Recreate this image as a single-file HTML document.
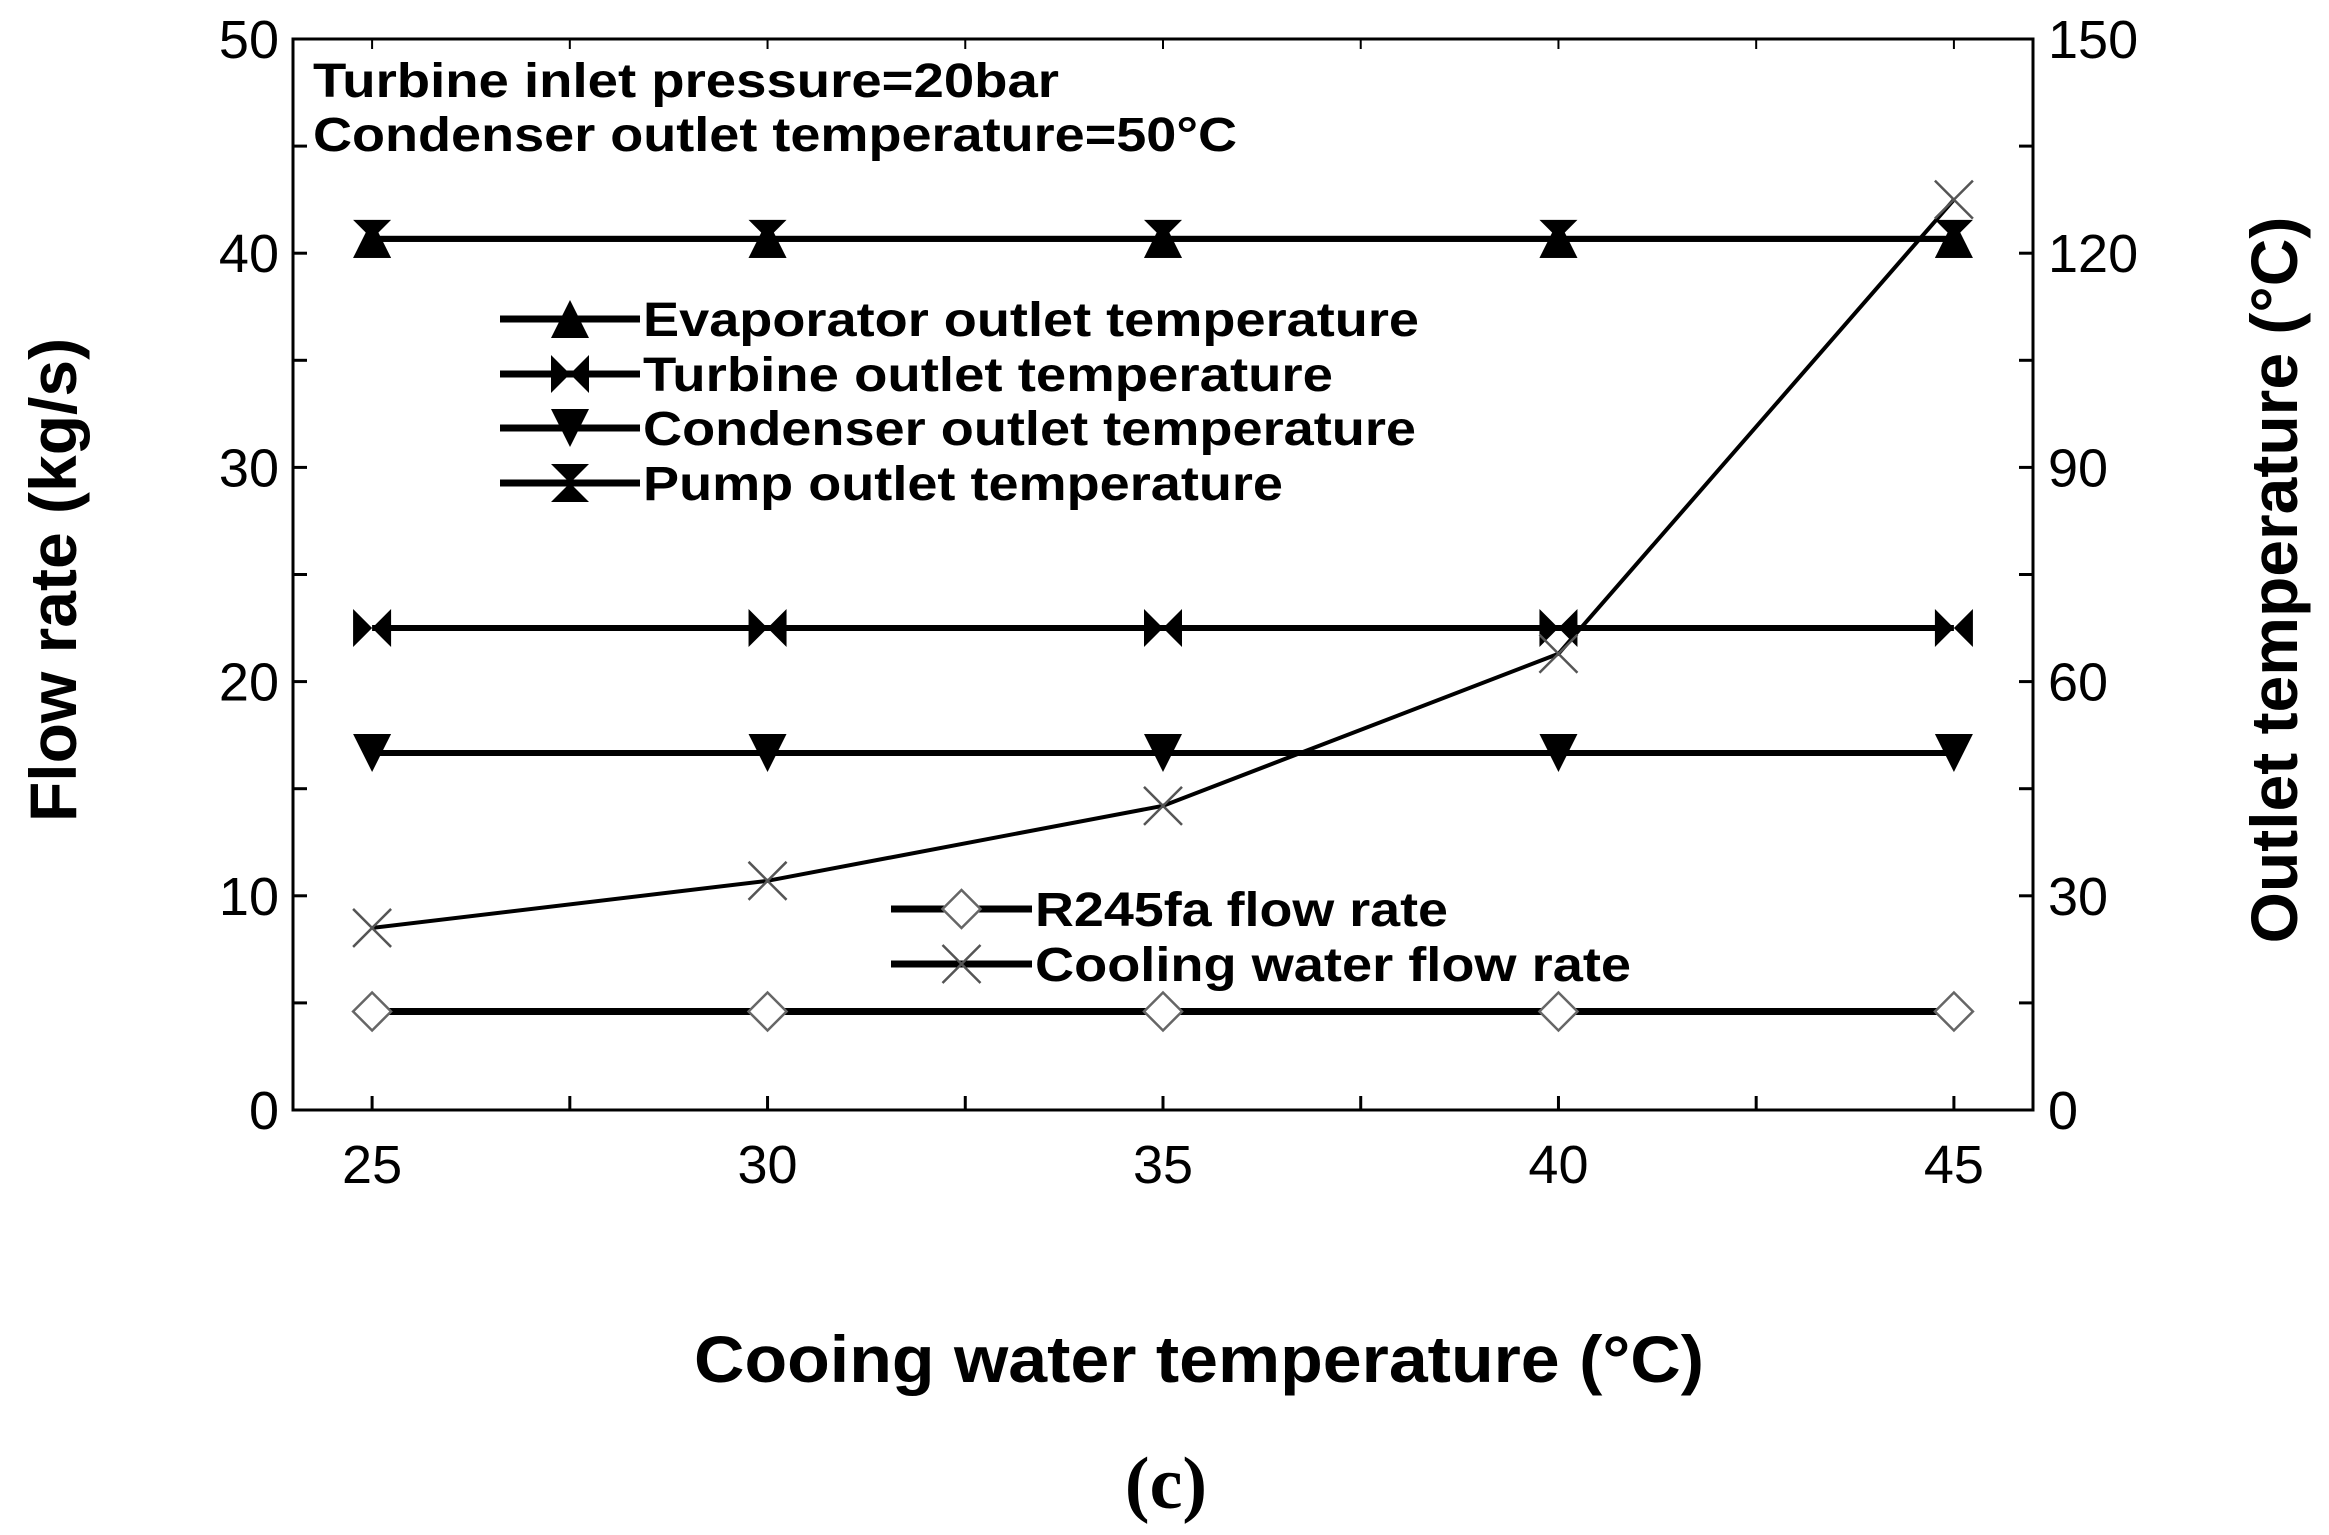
<!DOCTYPE html>
<html><head><meta charset="utf-8"><style>
html,body{margin:0;padding:0;background:#fff;}
svg{display:block;font-family:"Liberation Sans",Arial,sans-serif;}
</style></head><body>
<svg id="chart" width="2329" height="1535" viewBox="0 0 2329 1535"></svg>
<script>
const xCats = [25, 30, 35, 40, 45];
const r245faFlow = [4.6, 4.6, 4.6, 4.6, 4.6];
const coolingFlow = [8.5, 10.7, 14.2, 21.3, 42.5];
const evapTemp = [122, 122, 122, 122, 122];
const turbineTemp = [67.5, 67.5, 67.5, 67.5, 67.5];
const condTemp = [50, 50, 50, 50, 50];
const pumpTemp = [122, 122, 122, 122, 122];
const leftTicks = [0, 10, 20, 30, 40, 50];
const rightTicks = [0, 30, 60, 90, 120, 150];
const xTicks = [25, 30, 35, 40, 45];

const NS = "http://www.w3.org/2000/svg";
const svg = document.getElementById('chart');
const L = 293, R = 2033, T = 39, B = 1110;
const xs = v => L + (v - 24) / 22 * (R - L);
const yl = v => B - v / 50 * (B - T);
const yr = v => B - v / 150 * (B - T);

function el(tag, attrs, parent) {
  const e = document.createElementNS(NS, tag);
  for (const k in attrs) e.setAttribute(k, attrs[k]);
  (parent || svg).appendChild(e);
  return e;
}
function txt(s, attrs) { const e = el('text', attrs); e.textContent = s; return e; }

const box = el('rect', {x: L, y: T, width: R - L, height: B - T, fill: 'none', stroke: '#000', 'stroke-width': 3});



for (let v = 25; v <= 45; v += 2.5) {
  const t = el('line', {x1: xs(v), x2: xs(v), y1: B, y2: B - 14, stroke: '#000', 'stroke-width': 3});
  
  
  const t2 = el('line', {x1: xs(v), x2: xs(v), y1: T, y2: T + 10, stroke: '#000', 'stroke-width': 2});
  
  
}
xTicks.forEach(v => {
  const t = txt(String(v), {x: xs(v), y: 1183, 'font-size': 54, 'text-anchor': 'middle'});
  
  
});
for (let v = 0; v <= 50; v += 5) {
  const t = el('line', {x1: L, x2: L + 14, y1: yl(v), y2: yl(v), stroke: '#000', 'stroke-width': 3});
  
  
}
leftTicks.forEach(v => {
  const t = txt(String(v), {x: 279, y: yl(v) + 19, 'font-size': 54, 'text-anchor': 'end'});
  
  
});
for (let v = 0; v <= 150; v += 15) {
  const t = el('line', {x1: R, x2: R - 14, y1: yr(v), y2: yr(v), stroke: '#000', 'stroke-width': 3});
  
  
}
rightTicks.forEach(v => {
  const t = txt(String(v), {x: 2048, y: yr(v) + 19, 'font-size': 54, 'text-anchor': 'start'});
  
  
});

function marker(type, cx, cy, s, g) {
  const h = s / 2;
  let e;
  if (type === 'up') e = el('polygon', {points: `${cx-h},${cy+h} ${cx+h},${cy+h} ${cx},${cy-h}`, fill: '#000'}, g);
  else if (type === 'down') e = el('polygon', {points: `${cx-h},${cy-h} ${cx+h},${cy-h} ${cx},${cy+h}`, fill: '#000'}, g);
  else if (type === 'bow') e = el('polygon', {points: `${cx-h},${cy-h} ${cx},${cy} ${cx+h},${cy-h} ${cx+h},${cy+h} ${cx},${cy} ${cx-h},${cy+h}`, fill: '#000'}, g);
  else if (type === 'hour') e = el('polygon', {points: `${cx-h},${cy-h} ${cx+h},${cy-h} ${cx},${cy} ${cx+h},${cy+h} ${cx-h},${cy+h} ${cx},${cy}`, fill: '#000'}, g);
  else if (type === 'diamond') e = el('polygon', {points: `${cx-h},${cy} ${cx},${cy-h} ${cx+h},${cy} ${cx},${cy+h}`, fill: '#fff', stroke: '#666', 'stroke-width': 2.5}, g);
  else if (type === 'x') e = el('path', {d: `M${cx-h},${cy-h}L${cx+h},${cy+h}M${cx-h},${cy+h}L${cx+h},${cy-h}`, stroke: '#555', 'stroke-width': 2.5, fill: 'none'}, g);
  
  
}

function series(name, vals, yf, type, lw) {
  const g = el('g', {});
  
  
  const pts = vals.map((v, i) => `${xs(xCats[i])},${yf(v)}`).join(' ');
  const pl = el('polyline', {points: pts, fill: 'none', stroke: '#000', 'stroke-width': lw}, g);
  
  
  vals.forEach((v, i) => marker(type, xs(xCats[i]), yf(v), 38, g));
}
series('r245fa-flow-series', r245faFlow, yl, 'diamond', 7);
series('condenser-temp-series', condTemp, yr, 'down', 6);
series('turbine-temp-series', turbineTemp, yr, 'bow', 6);
series('pump-temp-series', pumpTemp, yr, 'hour', 6);
series('evaporator-temp-series', evapTemp, yr, 'up', 6);
series('cooling-flow-series', coolingFlow, yl, 'x', 4);

function legendEntry(type, y, x0, x1, label, name, len) {
  const g = el('g', {});
  
  
  const ln = el('line', {x1: x0, x2: x1, y1: y, y2: y, stroke: '#000', 'stroke-width': 7}, g);
  
  
  marker(type, (x0 + x1) / 2, y, 38, g);
  const t = el('text', {x: x1 + 3, y: y + 17, 'font-size': 48, 'font-weight': 'bold', textLength: len, lengthAdjust: 'spacingAndGlyphs'}, g);
  t.textContent = label;
  
  
}
legendEntry('up', 319, 500, 640, 'Evaporator outlet temperature', 'legend-evaporator', 776);
legendEntry('bow', 374, 500, 640, 'Turbine outlet temperature', 'legend-turbine', 690);
legendEntry('down', 428, 500, 640, 'Condenser outlet temperature', 'legend-condenser', 773);
legendEntry('hour', 483, 500, 640, 'Pump outlet temperature', 'legend-pump', 640);
legendEntry('diamond', 909, 891, 1032, 'R245fa flow rate', 'legend-r245fa', 413);
legendEntry('x', 964, 891, 1032, 'Cooling water flow rate', 'legend-cooling-water', 596);

const a1 = txt('Turbine inlet pressure=20bar', {x: 313, y: 97, 'font-size': 48, 'font-weight': 'bold', textLength: 746, lengthAdjust: 'spacingAndGlyphs'});


const a2 = txt('Condenser outlet temperature=50°C', {x: 313, y: 151, 'font-size': 48, 'font-weight': 'bold', textLength: 924, lengthAdjust: 'spacingAndGlyphs'});



const xt = txt('Cooing water temperature (°C)', {x: 694, y: 1382, 'font-size': 66, 'font-weight': 'bold', textLength: 1010, lengthAdjust: 'spacingAndGlyphs'});


const ylt = txt('Flow rate (kg/s)', {x: 0, y: 0, 'font-size': 66, 'font-weight': 'bold', 'text-anchor': 'middle', transform: 'translate(76,580) rotate(-90)'});


const yrt = txt('Outlet temperature (°C)', {x: 0, y: 0, 'font-size': 66, 'font-weight': 'bold', 'text-anchor': 'middle', transform: 'translate(2297,580) rotate(-90)'});


const cap = txt('(c)', {x: 1166, y: 1508, 'font-size': 74, 'font-weight': 'bold', 'text-anchor': 'middle', 'font-family': '"Liberation Serif", serif'});


</script>
</body></html>
